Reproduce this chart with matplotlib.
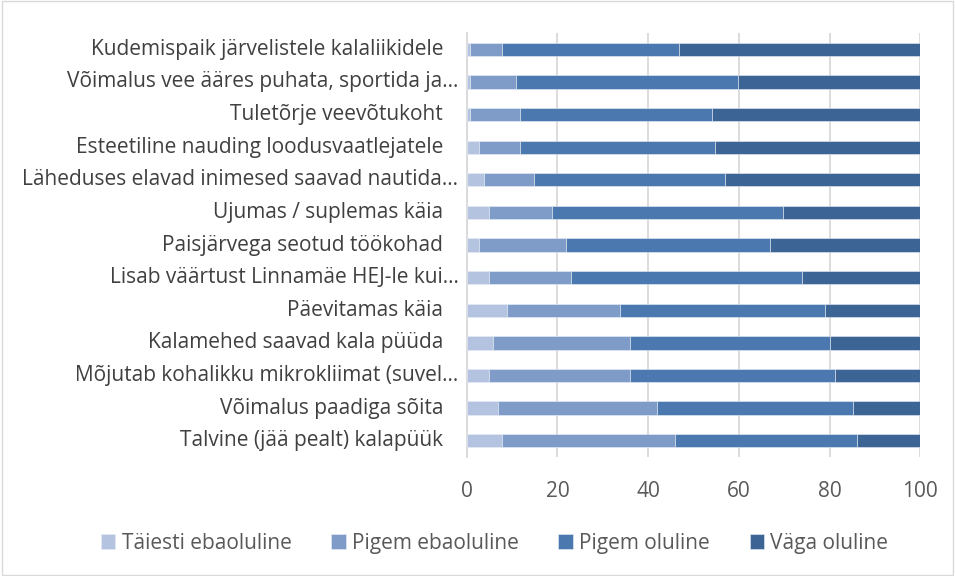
import matplotlib.pyplot as plt
import numpy as np
from matplotlib.patches import Rectangle

plt.rcParams['font.family'] = ['Open Sans', 'DejaVu Sans']

# categories, bottom to top
categories = [
    'Talvine (jää pealt) kalapüük',
    'Võimalus paadiga sõita',
    'Mõjutab kohalikku mikrokliimat (suvel…',
    'Kalamehed saavad kala püüda',
    'Päevitamas käia',
    'Lisab väärtust Linnamäe HEJ-le kui…',
    'Paisjärvega seotud töökohad',
    'Ujumas / suplemas käia',
    'Läheduses elavad inimesed saavad nautida…',
    'Esteetiline nauding loodusvaatlejatele',
    'Tuletõrje veevõtukoht',
    'Võimalus vee ääres puhata, sportida ja…',
    'Kudemispaik järvelistele kalaliikidele',
]

taiesti_ebaoluline = [7.8, 6.8, 4.9, 5.8, 8.9, 4.9, 2.7, 4.9, 3.8, 2.7, 0.8, 0.8, 0.8]
pigem_ebaoluline = [38.1, 35.1, 31.0, 30.1, 25.0, 18.1, 19.1, 14.0, 11.0, 9.1, 11.0, 10.0, 6.9]
pigem_oluline = [40.1, 43.2, 45.2, 44.1, 45.0, 51.0, 45.1, 50.9, 42.1, 43.0, 42.2, 49.1, 39.2]
vaga_oluline = [14.0, 14.9, 18.9, 20.0, 21.1, 26.0, 33.1, 30.2, 43.1, 45.2, 46.0, 40.1, 53.1]

series = ['Täiesti ebaoluline', 'Pigem ebaoluline', 'Pigem oluline', 'Väga oluline']
colors = ['#B4C3E0', '#7F9CC8', '#4A78AF', '#3C6494']

fig = plt.figure(figsize=(9.55, 5.76), dpi=100)
ax = fig.add_axes([0.4887, 0.2066, 0.475, 0.736])

y = np.arange(len(categories))
left = np.zeros(len(categories))
for name, vals, c in zip(series, [taiesti_ebaoluline, pigem_ebaoluline, pigem_oluline, vaga_oluline], colors):
    ax.barh(y, vals, left=left, height=0.41, color=c, edgecolor='#E8EEF6', linewidth=0.4, label=name, zorder=3)
    left += np.array(vals)

ax.set_xlim(0, 100)
ax.set_ylim(-0.5, len(categories) - 0.5)
ax.set_xticks(range(0, 101, 20))
ax.set_yticks(y)
ax.set_yticklabels([])
ax.tick_params(axis='x', labelsize=15, colors='#595959', length=0, pad=17)
ax.tick_params(axis='y', length=0)

# category labels: truncated ones run closer to the axis
for yi, lab in zip(y, categories):
    off = 6 if lab.endswith('…') else 17
    ax.annotate(lab, xy=(0, yi), xycoords=('axes fraction', 'data'), xytext=(-off, 0),
                textcoords='offset points', ha='right', va='center', fontsize=15, color='#404040')

ax.grid(axis='x', color='#D9D9D9', linewidth=1.3, zorder=0)
for s in ['top', 'right', 'bottom']:
    ax.spines[s].set_visible(False)
ax.spines['left'].set_color('#D9D9D9')
ax.spines['left'].set_linewidth(1.3)

leg = fig.legend(loc='center', bbox_to_anchor=(0.518, 0.057), ncol=4, frameon=False,
                 fontsize=15, handlelength=0.7, handleheight=0.7, handletextpad=0.3,
                 columnspacing=1.9)
for t in leg.get_texts():
    t.set_color('#595959')

fig.patches.append(Rectangle((0.002, 0.002), 0.996, 0.996, transform=fig.transFigure,
                             fill=False, edgecolor='#D9D9D9', linewidth=1))

fig.savefig('out.png', dpi=100)
